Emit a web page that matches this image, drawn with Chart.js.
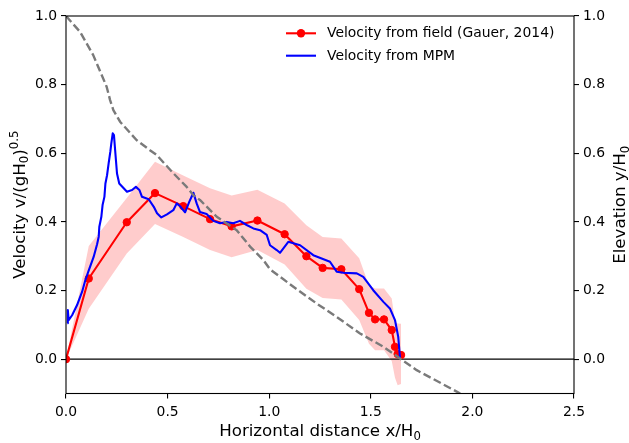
<!DOCTYPE html>
<html><head><meta charset="utf-8">
<script src="https://cdn.jsdelivr.net/npm/chart.js@4.4.1/dist/chart.umd.min.js"></script>
<style>html,body{margin:0;padding:0;background:#fff}canvas{display:block}</style>
</head><body>
<canvas id="c" width="629" height="443"></canvas>
<script>
// ---- data ----
const xTicks = [0, 0.5, 1.0, 1.5, 2.0, 2.5];
const yTicks = [0, 0.2, 0.4, 0.6, 0.8, 1.0];

const fieldX = [0, 0.112, 0.299, 0.438, 0.577, 0.709, 0.815, 0.942, 1.076, 1.183, 1.263, 1.355, 1.443, 1.491, 1.521, 1.565, 1.603, 1.619, 1.632, 1.649];
const fieldV = [0, 0.235, 0.399, 0.484, 0.446, 0.408, 0.387, 0.404, 0.364, 0.300, 0.266, 0.262, 0.204, 0.135, 0.116, 0.116, 0.085, 0.036, 0.015, 0.012];
const bandUpper = [0, 0.33, 0.47, 0.575, 0.535, 0.498, 0.477, 0.494, 0.454, 0.39, 0.356, 0.352, 0.294, 0.215, 0.206, 0.206, 0.177, 0.108, 0.104, 0.103];
const bandLower = [0, 0.147, 0.308, 0.394, 0.356, 0.318, 0.297, 0.318, 0.276, 0.205, 0.178, 0.174, 0.114, 0.045, 0.026, 0.026, -0.005, -0.054, -0.076, -0.072];

const mpmX = [0.007, 0.009, 0.013, 0.03, 0.054, 0.079, 0.095, 0.112, 0.136, 0.153, 0.161, 0.164, 0.174, 0.18, 0.189, 0.194, 0.202, 0.21, 0.218, 0.223, 0.23, 0.236, 0.243, 0.251, 0.262, 0.284, 0.3, 0.325, 0.344, 0.361, 0.374, 0.407, 0.432, 0.448, 0.469, 0.497, 0.528, 0.545, 0.564, 0.586, 0.607, 0.627, 0.643, 0.659, 0.692, 0.725, 0.758, 0.791, 0.823, 0.856, 0.889, 0.922, 0.955, 0.988, 1.004, 1.037, 1.053, 1.094, 1.152, 1.217, 1.299, 1.332, 1.365, 1.431, 1.463, 1.512, 1.562, 1.594, 1.619, 1.635, 1.644];
const mpmV = [0.105, 0.143, 0.114, 0.128, 0.157, 0.196, 0.23, 0.259, 0.298, 0.335, 0.357, 0.386, 0.415, 0.449, 0.473, 0.512, 0.536, 0.571, 0.604, 0.629, 0.658, 0.653, 0.6, 0.541, 0.512, 0.498, 0.488, 0.493, 0.502, 0.493, 0.473, 0.466, 0.444, 0.425, 0.413, 0.422, 0.434, 0.454, 0.444, 0.428, 0.459, 0.485, 0.454, 0.429, 0.423, 0.403, 0.396, 0.4, 0.396, 0.403, 0.391, 0.381, 0.376, 0.362, 0.332, 0.318, 0.31, 0.342, 0.332, 0.303, 0.284, 0.255, 0.252, 0.25, 0.24, 0.201, 0.167, 0.148, 0.114, 0.065, 0.002];

const elevX = [0, 0.069, 0.134, 0.2, 0.217, 0.233, 0.266, 0.348, 0.413, 0.446, 0.528, 0.594, 0.627, 0.659, 0.742, 0.84, 0.906, 0.971, 1.004, 1.119, 1.234, 1.332, 1.447, 1.562, 1.644, 1.726, 1.94];
const elevY = [1.0, 0.954, 0.886, 0.794, 0.755, 0.726, 0.692, 0.638, 0.609, 0.595, 0.542, 0.502, 0.478, 0.464, 0.415, 0.376, 0.328, 0.289, 0.262, 0.211, 0.162, 0.123, 0.075, 0.036, 0.002, -0.032, -0.1];

const legendLabels = ['Velocity from field (Gauer, 2014)', 'Velocity from MPM'];

const pts = (xs, ys) => xs.map((x, i) => ({x, y: ys[i]}));
const FONT = 'DejaVu Sans';
Chart.defaults.font.family = FONT;
Chart.defaults.color = '#000';

function drawRich(ctx, parts, cx, cy, rot) {
  ctx.save();
  ctx.translate(cx, cy);
  if (rot) ctx.rotate(-Math.PI / 2);
  let w = 0;
  for (const p of parts) { ctx.font = p.s + 'px "' + FONT + '"'; w += ctx.measureText(p.t).width; }
  let x = -w / 2;
  ctx.textAlign = 'left'; ctx.textBaseline = 'alphabetic'; ctx.fillStyle = '#000';
  for (const p of parts) {
    ctx.font = p.s + 'px "' + FONT + '"';
    ctx.fillText(p.t, x, p.dy || 0);
    x += ctx.measureText(p.t).width;
  }
  ctx.restore();
}

const decor = {
  id: 'decor',
  afterDatasetsDraw(chart) {
    const ctx = chart.ctx, a = chart.chartArea;
    ctx.save();
    ctx.strokeStyle = '#000'; ctx.lineWidth = 1.1;
    ctx.strokeRect(a.left, a.top, a.right - a.left, a.bottom - a.top);
    ctx.restore();
  },
  afterDraw(chart) {
    const ctx = chart.ctx, a = chart.chartArea;
    const cx = (a.left + a.right) / 2, cy = (a.top + a.bottom) / 2;
    const T = 16.67, S = 11.7;
    drawRich(ctx, [{t: 'Horizontal distance x/H', s: T}, {t: '0', s: S, dy: 3.5}], cx, 436, false);
    drawRich(ctx, [{t: 'Velocity v/(gH', s: T}, {t: '0', s: S, dy: 3.5}, {t: ')', s: T}, {t: '0.5', s: S, dy: -7}], 24.5, cy, true);
    drawRich(ctx, [{t: 'Elevation y/H', s: T}, {t: '0', s: S, dy: 3.5}], 625, cy, true);
    // legend
    const ds = chart.data.datasets;
    const items = [ds[2], ds[1]];
    const ys = [33.3, 55.7];
    ctx.save();
    items.forEach((d, i) => {
      ctx.strokeStyle = d.borderColor; ctx.lineWidth = 2.1;
      ctx.beginPath(); ctx.moveTo(286, ys[i]); ctx.lineTo(316, ys[i]); ctx.stroke();
      if (d.pointRadius > 0) {
        ctx.fillStyle = d.borderColor;
        ctx.beginPath(); ctx.arc(301, ys[i], 4.2, 0, Math.PI * 2); ctx.fill();
      }
      ctx.fillStyle = '#000'; ctx.font = '13.9px "' + FONT + '"';
      ctx.textAlign = 'left'; ctx.textBaseline = 'middle';
      ctx.fillText(legendLabels[i], 327, ys[i] + 0.5);
    });
    ctx.restore();
  }
};

const tickFont = {family: FONT, size: 13.9};
const gridOpt = {drawOnChartArea: false, drawTicks: true, tickLength: 5, color: '#000', lineWidth: 1.1};
const fmt = v => Number(v).toFixed(1);

new Chart(document.getElementById('c'), {
  type: 'line',
  data: {
    datasets: [
      {label: 'Elevation', data: pts(elevX, elevY), yAxisID: 'y2', borderColor: '#7a7a7a', borderWidth: 2.4, borderDash: [8, 3.5], pointRadius: 0, fill: false, tension: 0},
      {label: legendLabels[1], data: pts(mpmX, mpmV), yAxisID: 'y', borderColor: '#0000ff', borderWidth: 2.1, pointRadius: 0, fill: false, tension: 0},
      {label: legendLabels[0], data: pts(fieldX, fieldV), yAxisID: 'y', borderColor: '#ff0000', backgroundColor: '#ff0000', borderWidth: 2.1, pointRadius: 3.7, pointBorderWidth: 1, pointBackgroundColor: '#ff0000', pointBorderColor: '#ff0000', fill: false, tension: 0},
      {label: 'zero', data: pts([0, 2.5], [0, 0]), yAxisID: 'y', borderColor: '#000', borderWidth: 1.2, pointRadius: 0, fill: false},
      {label: 'upper', data: pts(fieldX, bandUpper), yAxisID: 'y', borderWidth: 0, borderColor: 'rgba(0,0,0,0)', pointRadius: 0, fill: false},
      {label: 'lower', data: pts(fieldX, bandLower), yAxisID: 'y', borderWidth: 0, borderColor: 'rgba(0,0,0,0)', pointRadius: 0, fill: {target: 4}, backgroundColor: 'rgba(255,0,0,0.2)'}
    ]
  },
  options: {
    responsive: false, animation: false, devicePixelRatio: 1,
    layout: {padding: {top: 16, left: 0, right: 0, bottom: 0}},
    plugins: {legend: {display: false}, tooltip: {enabled: false}, filler: {propagate: false}},
    elements: {line: {borderJoinStyle: 'round', borderCapStyle: 'butt'}},
    scales: {
      x: {type: 'linear', position: 'bottom', min: 0, max: 2.5,
        afterFit(s) { s.height = 49.5; },
        afterBuildTicks(s) { s.ticks = xTicks.map(v => ({value: v})); },
        ticks: {font: tickFont, color: '#000', padding: 5.5, maxRotation: 0, autoSkip: false, callback: fmt},
        grid: gridOpt, border: {display: false}},
      y: {type: 'linear', position: 'left', min: -0.1, max: 1.0,
        afterFit(s) { s.width = 66; },
        afterBuildTicks(s) { s.ticks = yTicks.map(v => ({value: v})); },
        ticks: {font: tickFont, color: '#000', padding: 4, autoSkip: false, callback: fmt},
        grid: gridOpt, border: {display: false}},
      y2: {type: 'linear', position: 'right', min: -0.1, max: 1.0,
        afterFit(s) { s.width = 55; },
        afterBuildTicks(s) { s.ticks = yTicks.map(v => ({value: v})); },
        ticks: {font: tickFont, color: '#000', padding: 4, autoSkip: false, callback: fmt},
        grid: gridOpt, border: {display: false}}
    }
  },
  plugins: [decor]
});
</script>
</body></html>
